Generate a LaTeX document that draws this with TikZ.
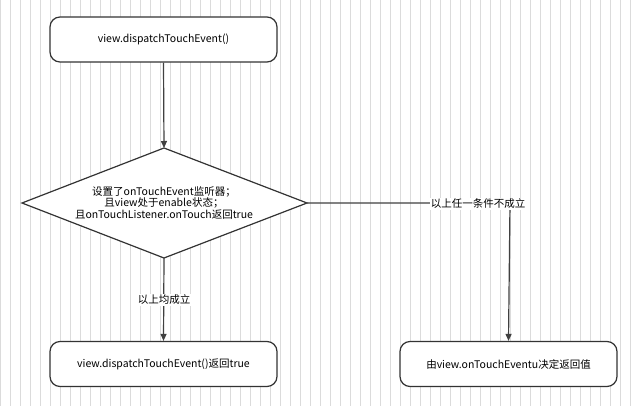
\documentclass[tikz,border=0pt]{standalone}
\usepackage{fontspec}
\setmainfont{Noto Sans CJK SC}
\usetikzlibrary{arrows.meta}
\begin{document}
\begin{tikzpicture}[x=1pt,y=-1pt,
  box/.style={draw=black!80,line width=1.2pt,rounded corners=10pt,fill=white,minimum width=227pt,minimum height=45pt,font=\fontsize{10.5}{12}\selectfont},
  conn/.style={draw=black!75,line width=1.2pt,-{Triangle[length=7pt,width=6pt]}},
  lab/.style={fill=white,inner sep=1pt,font=\fontsize{10.5}{12}\selectfont}]
\useasboundingbox (0,0) rectangle (640,406);
\fill[white] (0,0) rectangle (640,406);
\draw[black!14,line width=0.8pt] (0,0) grid[step=10] (640,406);
\node[box] (a) at (163.5,39.5) {view.dispatchTouchEvent()};
\node[box] (b) at (163.5,364) {view.dispatchTouchEvent()返回true};
\node[box,minimum width=217pt] (c) at (508.5,364) {由view.onTouchEventu决定返回值};
\coordinate (dt) at (164,148);
\coordinate (dr) at (307,203);
\coordinate (db) at (164,258);
\coordinate (dl) at (22,203);
\draw[black!80,line width=1.2pt,fill=white] (dt)--(dr)--(db)--(dl)--cycle;
\node[align=center,font=\fontsize{10.5}{11.5}\selectfont,inner sep=0pt] (d) at (164,203) {设置了onTouchEvent监听器；\\且view处于enable状态；\\且onTouchListener.onTouch返回true};
\draw[conn] (a.south) -- (dt);
\draw[conn] (db) -- (b.north);
\coordinate (k) at (510,203);
\draw[conn] (dr) -- (k) -- (c.north);
\node[lab] at (164,300) {以上均成立};
\node[lab] at (478,204) {以上任一条件不成立};
\end{tikzpicture}
\end{document}
